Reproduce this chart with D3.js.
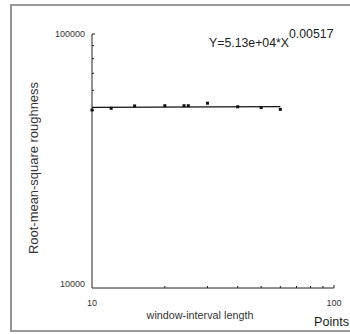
<!DOCTYPE html>
<html>
<head>
<meta charset="utf-8">
<script src="https://cdn.jsdelivr.net/npm/d3@7/dist/d3.min.js"></script>
<style>
  html, body { margin: 0; padding: 0; background: #fff; }
  svg { display: block; font-family: Arial, "Liberation Sans", sans-serif; }
</style>
</head>
<body>
<svg id="chart" width="350" height="334"></svg>
<script>
// ---- data ----
const windowLengths = [10, 12, 15, 20, 24, 25, 30, 40, 50, 60];
const rmsRoughness = [50200, 51000, 52100, 52200, 52200, 52200, 53400, 51700, 51300, 50500];
const fitX = [10, 60];
const fitY = [51400, 51800];
const xTickLabels = [10, 100];
const yTickLabels = [10000, 100000];
const yMinorTicks = [50000, 60000, 70000, 80000, 90000, 100000];
const xMinorTicks = [20, 30, 40, 50, 60, 70, 80, 90, 100];
const equationMain = "Y=5.13e+04*X";
const equationExp = "0.00517";

const svg = d3.select("#chart");

// frame
svg.append("path")
  .attr("d", "M352,5 L11,5 L11,331 L352,331")
  .attr("fill", "none").attr("stroke", "#7a7a7a").attr("stroke-width", 1.6);

const x = d3.scaleLog().domain([10, 100]).range([92, 334]);
const y = d3.scaleLog().domain([10000, 100000]).range([288, 34]);

const axisColor = "#222";

// x axis
const xAxisG = svg.append("g").attr("transform", "translate(0,288)");
xAxisG.append("line").attr("x1", x(10)).attr("x2", x(100)).attr("stroke", axisColor).attr("stroke-width", 1);
xAxisG.selectAll("line.tick").data(xMinorTicks).join("line").attr("class", "tick")
  .attr("x1", d => x(d)).attr("x2", d => x(d)).attr("y1", 0).attr("y2", d => d === 100 ? -3 : -2)
  .attr("stroke", axisColor).attr("stroke-width", 1);
xAxisG.selectAll("text").data(xTickLabels).join("text")
  .attr("x", d => x(d)).attr("y", 18).attr("text-anchor", "middle")
  .attr("font-size", 9).attr("fill", "#333").text(d => d);

// y axis
const yAxisG = svg.append("g").attr("transform", "translate(92,0)");
yAxisG.append("line").attr("y1", y(10000)).attr("y2", y(100000)).attr("stroke", axisColor).attr("stroke-width", 1);
yAxisG.selectAll("line.tick").data(yMinorTicks).join("line").attr("class", "tick")
  .attr("y1", d => y(d)).attr("y2", d => y(d)).attr("x1", 0).attr("x2", d => d === 100000 ? 3 : 2)
  .attr("stroke", axisColor).attr("stroke-width", 1);
yAxisG.selectAll("text").data(yTickLabels).join("text")
  .attr("x", -7).attr("y", d => y(d) + (d === 10000 ? -1 : 3))
  .attr("text-anchor", "end").attr("font-size", 9).attr("fill", "#333").text(d => d);

// fit line
svg.append("line")
  .attr("x1", x(fitX[0])).attr("y1", y(fitY[0]))
  .attr("x2", x(fitX[1])).attr("y2", y(fitY[1]))
  .attr("stroke", "#111").attr("stroke-width", 1.2);

// points
svg.selectAll("rect.pt").data(windowLengths).join("rect").attr("class", "pt")
  .attr("x", (d) => x(d) - 1.5)
  .attr("y", (d, i) => y(rmsRoughness[i]) - 1.5)
  .attr("width", 3).attr("height", 3).attr("fill", "#111");

// equation
const eq = svg.append("text").attr("x", 209).attr("y", 47).attr("font-size", 12.3).attr("fill", "#222");
eq.append("tspan").text(equationMain);
eq.append("tspan").attr("dy", -9).text(equationExp);

// axis labels
svg.append("text").attr("x", 200).attr("y", 319).attr("text-anchor", "middle")
  .attr("font-size", 10.8).attr("fill", "#333").text("window-interval length");
svg.append("text").attr("x", 314).attr("y", 326).attr("font-size", 12.6).attr("fill", "#222").text("Points");
svg.append("text")
  .attr("transform", "translate(38,168) rotate(-90)")
  .attr("text-anchor", "middle").attr("font-size", 12).attr("fill", "#333")
  .attr("textLength", 172).attr("lengthAdjust", "spacingAndGlyphs")
  .text("Root-mean-square roughness");
</script>
</body>
</html>
